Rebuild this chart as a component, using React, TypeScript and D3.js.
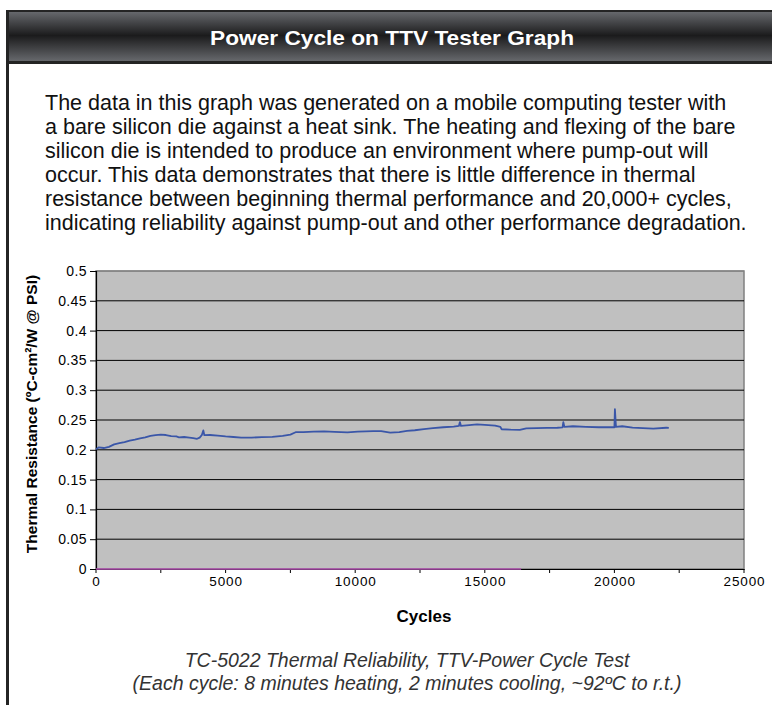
import React, { useRef, useEffect } from "react";
import * as d3 from "d3";

const cycles = [
  0, 100, 300, 500, 700, 900, 1100, 1300, 1500, 1700, 1900, 2100, 2300, 2500,
  2700, 2900, 3100, 3200, 3400, 3600, 3750, 3900, 4000, 4080, 4140, 4180, 4400,
  4700, 5000, 5300, 5600, 6000, 6400, 6800, 7200, 7500, 7700, 8000, 8400, 8800,
  9200, 9700, 10100, 10700, 11000, 11350, 11700, 12000, 12300, 12650, 13000,
  13400, 13800, 14000, 14040, 14080, 14400, 14700, 15000, 15400, 15600, 15650,
  16000, 16350, 16600, 17000, 17400, 17800, 18000, 18030, 18070, 18400, 18900,
  19400, 19800, 20000, 20020, 20060, 20300, 20700, 21100, 21500, 22000, 22100,
];
const resistance = [
  0.201, 0.204, 0.203, 0.205, 0.209, 0.211, 0.213, 0.2155, 0.217, 0.219, 0.221,
  0.2235, 0.2245, 0.2255, 0.2248, 0.223, 0.2225, 0.221, 0.2215, 0.2205, 0.2195,
  0.2185, 0.2205, 0.2245, 0.2325, 0.2245, 0.2248, 0.2238, 0.2225, 0.2215,
  0.2205, 0.2205, 0.2212, 0.2218, 0.2235, 0.2255, 0.2295, 0.2298, 0.2305,
  0.2308, 0.23, 0.2293, 0.2305, 0.2315, 0.2312, 0.2288, 0.2298, 0.2318, 0.2328,
  0.2348, 0.2362, 0.2378, 0.239, 0.24, 0.2465, 0.24, 0.2415, 0.2425, 0.2418,
  0.2405, 0.2385, 0.2345, 0.2338, 0.2335, 0.2358, 0.2365, 0.2368, 0.237,
  0.2375, 0.2465, 0.2385, 0.2395, 0.2385, 0.2378, 0.238, 0.2378, 0.268, 0.2385,
  0.2395, 0.2372, 0.2362, 0.2355, 0.237, 0.2368,
];
// second (flat) series sitting on the zero line
const baseCycles = [0, 16400];
const baseValues = [0, 0];

const yTicks = [0, 0.05, 0.1, 0.15, 0.2, 0.25, 0.3, 0.35, 0.4, 0.45, 0.5];
const xTicks = [0, 5000, 10000, 15000, 20000, 25000];
const xMinorTicks = [2500, 7500, 12500, 17500, 22500];

const title = "Power Cycle on TTV Tester Graph";
const paragraph = [
  "The data in this graph was generated on a mobile computing tester with",
  "a bare silicon die against a heat sink. The heating and flexing of the bare",
  "silicon die is intended to produce an environment where pump-out will",
  "occur. This data demonstrates that there is little difference in thermal",
  "resistance between beginning thermal performance and 20,000+ cycles,",
  "indicating reliability against pump-out and other performance degradation.",
];
const caption = [
  "TC-5022 Thermal Reliability, TTV-Power Cycle Test",
  "(Each cycle: 8 minutes heating, 2 minutes cooling, ~92ºC to r.t.)",
];

const App = () => {
  const ref = useRef<SVGSVGElement>(null);

  useEffect(() => {
    const svg = d3.select(ref.current);
    svg.selectAll("*").remove();
    const font = "Liberation Sans, Arial, sans-serif";

    // header bar
    const defs = svg.append("defs");
    const grad = defs
      .append("linearGradient")
      .attr("id", "hdr")
      .attr("x1", 0)
      .attr("y1", 0)
      .attr("x2", 0)
      .attr("y2", 1);
    grad.append("stop").attr("offset", "0%").attr("stop-color", "#66686c");
    grad.append("stop").attr("offset", "48%").attr("stop-color", "#1b1b1c");
    grad.append("stop").attr("offset", "100%").attr("stop-color", "#66686c");

    svg.append("rect")
      .attr("x", 6)
      .attr("y", 10)
      .attr("width", 780)
      .attr("height", 54)
      .attr("fill", "#242424");
    svg.append("rect")
      .attr("x", 9)
      .attr("y", 12)
      .attr("width", 780)
      .attr("height", 49)
      .attr("fill", "url(#hdr)");
    svg.append("rect")
      .attr("x", 6)
      .attr("y", 10)
      .attr("width", 3)
      .attr("height", 700)
      .attr("fill", "#242424");

    svg.append("text")
      .attr("x", 392)
      .attr("y", 44.5)
      .attr("text-anchor", "middle")
      .attr("font-family", font)
      .attr("font-weight", "bold")
      .attr("font-size", 20)
      .attr("textLength", 364)
      .attr("lengthAdjust", "spacingAndGlyphs")
      .attr("fill", "#fff")
      .text(title);

    svg.append("g")
      .selectAll("text")
      .data(paragraph)
      .join("text")
      .attr("x", 45)
      .attr("y", (_, i) => 110 + i * 24)
      .attr("font-family", font)
      .attr("font-size", 21.5)
      .attr("fill", "#111")
      .text((d) => d);

    // plot area
    const margin = { top: 271, left: 96, right: 744, bottom: 569 };
    const x = d3.scaleLinear().domain([0, 25000]).range([margin.left, margin.right]);
    const y = d3.scaleLinear().domain([0, 0.5]).range([margin.bottom, margin.top]);

    svg.append("rect")
      .attr("x", margin.left)
      .attr("y", margin.top)
      .attr("width", margin.right - margin.left)
      .attr("height", margin.bottom - margin.top)
      .attr("fill", "#c0c0c0")
      .attr("stroke", "#808080")
      .attr("stroke-width", 1.5);

    svg.append("g")
      .selectAll("line")
      .data(yTicks.slice(1))
      .join("line")
      .attr("x1", margin.left)
      .attr("x2", margin.right)
      .attr("y1", (d) => y(d))
      .attr("y2", (d) => y(d))
      .attr("stroke", (d) => (d === 0.5 ? "#808080" : "#000"))
      .attr("stroke-width", 1);

    // y axis
    const yAxis = svg
      .append("g")
      .attr("transform", `translate(${margin.left},0)`)
      .call(d3.axisLeft(y).tickValues(yTicks).tickSize(6).tickPadding(3).tickFormat((d) => `${d}`));
    yAxis.select(".domain").attr("stroke", "#000").attr("stroke-width", 1.2);
    yAxis.selectAll("text")
      .attr("font-family", font)
      .attr("font-size", 14)
      .attr("letter-spacing", 0.4)
      .attr("fill", "#000");

    // x axis
    const xAxis = svg
      .append("g")
      .attr("transform", `translate(0,${margin.bottom})`)
      .call(d3.axisBottom(x).tickValues(xTicks).tickSize(0).tickPadding(7).tickFormat((d) => `${d}`));
    xAxis.select(".domain").attr("stroke", "#000").attr("stroke-width", 1.2);
    xAxis.selectAll("text")
      .attr("font-family", font)
      .attr("font-size", 13.5)
      .attr("letter-spacing", 0.9)
      .attr("fill", "#000");
    svg.append("g")
      .selectAll("line")
      .data([...xTicks, ...xMinorTicks])
      .join("line")
      .attr("x1", (d) => x(d))
      .attr("x2", (d) => x(d))
      .attr("y1", margin.bottom)
      .attr("y2", margin.bottom + 4)
      .attr("stroke", "#000");

    // series
    const line = d3
      .line<number>()
      .x((_, i) => x(cycles[i]))
      .y((d) => y(d));
    const baseLine = d3
      .line<number>()
      .x((_, i) => x(baseCycles[i]))
      .y((d) => y(d));

    svg.append("path")
      .attr("d", baseLine(baseValues))
      .attr("fill", "none")
      .attr("stroke", "#b050b0")
      .attr("stroke-width", 1.3);

    svg.append("path")
      .attr("d", line(resistance))
      .attr("fill", "none")
      .attr("stroke", "#3a56a8")
      .attr("stroke-width", 1.8)
      .attr("stroke-linejoin", "round");

    // axis titles
    svg.append("text")
      .attr("transform", `translate(37,414) rotate(-90)`)
      .attr("text-anchor", "middle")
      .attr("font-family", font)
      .attr("font-weight", "bold")
      .attr("font-size", 15.5)
      .attr("fill", "#000")
      .text("Thermal Resistance (ºC-cm²/W @ PSI)");

    svg.append("text")
      .attr("x", 424)
      .attr("y", 622)
      .attr("text-anchor", "middle")
      .attr("font-family", font)
      .attr("font-weight", "bold")
      .attr("font-size", 17)
      .attr("fill", "#000")
      .text("Cycles");

    svg.append("g")
      .selectAll("text")
      .data(caption)
      .join("text")
      .attr("x", 407)
      .attr("y", (_, i) => 667 + i * 23)
      .attr("text-anchor", "middle")
      .attr("font-family", font)
      .attr("font-style", "italic")
      .attr("font-size", 19.5)
      .attr("fill", "#333")
      .text((d) => d);
  }, []);

  return (
    <svg
      ref={ref}
      width={772}
      height={705}
      style={{ position: "absolute", left: 0, top: 0, background: "#fff" }}
    ></svg>
  );
};

export default App;
